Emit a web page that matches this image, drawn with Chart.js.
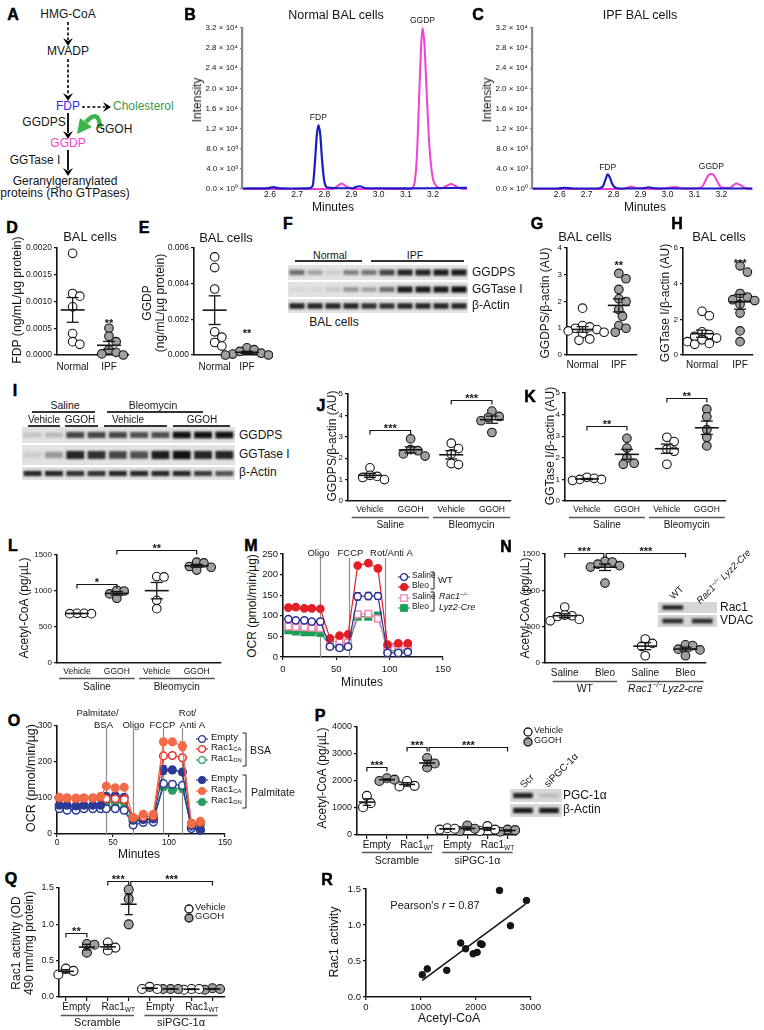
<!DOCTYPE html>
<html><head><meta charset="utf-8"><title>Figure</title>
<script src="https://cdn.jsdelivr.net/npm/chart.js@4.4.1/dist/chart.umd.min.js"></script>
<style>
html,body{margin:0;padding:0;background:#fff;}
#fig{position:relative;width:764px;height:1030px;overflow:hidden;background:#fff;font-family:'Liberation Sans',Arial,Helvetica,sans-serif;color:#151515;}
.tx{position:absolute;white-space:nowrap;line-height:1.15;}
.tx sub{font-size:0.62em;vertical-align:-0.3em;line-height:0;}
.tx sup{font-size:0.65em;vertical-align:0.5em;line-height:0;}
#fig canvas{position:absolute;}
.sv{position:absolute;}
</style></head>
<body><div id="fig"></div>
<script>
// ===================== DATA =====================
// B / C chromatograms (minutes, intensity)
const chromXTicks = [2.6, 2.7, 2.8, 2.9, 3.0, 3.1, 3.2];
const chromYTicks = [0, 4000, 8000, 12000, 16000, 20000, 24000, 28000, 32000];
const chromYLabels = ['0.0 × 10⁰', '4.0 × 10³', '8.0 × 10³', '1.2 × 10⁴', '1.6 × 10⁴', '2.0 × 10⁴', '2.4 × 10⁴', '2.8 × 10⁴', '3.2 × 10⁴'];
const bFdpMin = [2.500, 2.560, 2.595, 2.612, 2.630, 2.680, 2.740, 2.757, 2.765, 2.772, 2.778, 2.785, 2.792, 2.800, 2.812, 2.860, 2.905, 2.922, 2.932, 2.948, 3.000, 3.100, 3.200, 3.270, 3.325];
const bFdpInt = [100, 120, 180, 380, 160, 100, 120, 600, 5000, 10500, 12700, 10800, 5500, 1500, 300, 150, 150, 500, 550, 200, 150, 120, 150, 200, 250];
const bGgdpMin = [2.500, 2.700, 2.830, 2.852, 2.864, 2.878, 2.910, 3.050, 3.115, 3.130, 3.140, 3.148, 3.155, 3.161, 3.168, 3.176, 3.186, 3.198, 3.212, 3.228, 3.250, 3.266, 3.282, 3.300, 3.325];
const bGgdpInt = [0, 0, 0, 700, 1100, 600, 0, 0, 0, 800, 6000, 17000, 27000, 32000, 29000, 20000, 9000, 2500, 600, 150, 600, 1000, 600, 100, 0];
const cFdpMin = [2.500, 2.590, 2.620, 2.650, 2.740, 2.760, 2.770, 2.778, 2.786, 2.796, 2.812, 2.850, 2.910, 2.930, 2.950, 3.050, 3.150, 3.250, 3.315];
const cFdpInt = [100, 100, 250, 100, 100, 500, 1900, 2900, 2300, 900, 150, 100, 150, 350, 150, 100, 100, 100, 100];
const cGgdpMin = [2.500, 2.830, 2.852, 2.865, 2.880, 2.960, 3.010, 3.030, 3.050, 3.100, 3.128, 3.142, 3.153, 3.163, 3.173, 3.186, 3.200, 3.230, 3.255, 3.270, 3.290, 3.315];
const cGgdpInt = [0, 0, 300, 500, 250, 0, 300, 400, 150, 100, 400, 1800, 2800, 3000, 2700, 1400, 300, 200, 1100, 800, 150, 0];

// D / E (BAL cells)
const balCats = ['Normal', 'IPF'];
const dNormal = [0.0019, 0.00115, 0.0011, 0.0009, 0.0004, 0.00025, 0.0002];
const dIPF = [0.0005, 0.00035, 0.00025, 0.0001, 0.00005, 0.00002, 0.0];
const dYTicks = [0, 0.0005, 0.001, 0.0015, 0.002];
const dYLabels = ['0.0000', '0.0005', '0.0010', '0.0015', '0.0020'];
const eNormal = [0.0055, 0.0049, 0.0037, 0.0013, 0.001, 0.0007, 0.0005];
const eIPF = [0.0004, 0.0003, 0.0002, 0.0001, 0.00005, 0.0, 0.0];
const eYTicks = [0, 0.002, 0.004, 0.006];
const eYLabels = ['0.000', '0.002', '0.004', '0.006'];
// G / H
const gNormal = [1.75, 1.1, 1.05, 1.0, 0.95, 0.9, 0.85, 0.8, 0.6, 0.55];
const gIPF = [3.05, 2.85, 2.45, 2.1, 2.0, 1.7, 1.45, 1.1, 1.0, 0.85];
const gYTicks = [0, 1, 2, 3, 4];
const gYLabels = ['0', '1', '2', '3', '4'];
const hNormal = [2.45, 2.2, 1.3, 1.15, 1.05, 0.95, 0.85, 0.75, 0.65, 0.6];
const hIPF = [5.0, 4.65, 3.45, 3.25, 3.1, 3.05, 2.85, 2.35, 1.35, 0.75];
const hYTicks = [0, 2, 4, 6];
const hYLabels = ['0', '2', '4', '6'];
// J / K
const treatCats = ['Vehicle', 'GGOH', 'Vehicle', 'GGOH'];
const jSalVeh = [1.55, 1.2, 1.15, 1.1, 1.0];
const jSalGgoh = [2.9, 2.4, 2.35, 2.2, 2.1];
const jBleoVeh = [2.7, 2.45, 2.2, 1.75, 1.7];
const jBleoGgoh = [4.2, 3.95, 3.9, 3.75, 3.2];
const kSalVeh = [1.1, 1.05, 1.0, 1.0, 0.95];
const kSalGgoh = [2.9, 2.45, 2.0, 1.75, 1.7];
const kBleoVeh = [2.95, 2.75, 2.4, 2.3, 1.7];
const kBleoGgoh = [4.25, 3.9, 3.3, 2.95, 2.55];
const jkYTicks = [0, 1, 2, 3, 4, 5];
const jkYLabels = ['0', '1', '2', '3', '4', '5'];
// L
const lSalVeh = [690, 690, 685, 685];
const lSalGgoh = [1010, 1000, 960, 900];
const lBleoVeh = [1200, 1195, 870, 755];
const lBleoGgoh = [1400, 1390, 1340, 1330, 1290];
const acYTicks = [0, 500, 1000, 1500];
const acYLabels = ['0', '500', '1000', '1500'];
// M (OCR, minutes)
const mMin = [5, 12, 20, 27, 35, 44, 53, 61, 70, 80, 89, 98, 108, 117];
const mSalWT = [92, 89, 89, 86, 86, 25, 22, 25, 147, 148, 148, 10, 10, 12];
const mSalWTErr = [5, 5, 6, 5, 6, 2, 2, 2, 9, 9, 8, 2, 2, 2];
const mBleoWT = [120, 121, 118, 118, 117, 45, 52, 55, 222, 228, 215, 30, 33, 33];
const mSalKO = [74, 73, 72, 71, 70, 38, 37, 35, 104, 105, 93, 25, 27, 28];
const mSalKOErr = [5, 4, 4, 4, 4, 2, 2, 2, 4, 4, 6, 2, 2, 2];
const mBleoKO = [65, 62, 60, 60, 58, 28, 25, 27, 98, 98, 101, 15, 15, 17];
const mInjections = [35, 62, 96];
const mInjLabels = ['Oligo', 'FCCP', 'Rot/Anti A'];
const mYTicks = [0, 50, 100, 150, 200, 250];
const mYLabels = ['0', '50', '100', '150', '200', '250'];
const minTicks = [0, 50, 100, 150];
const minLabels = ['0', '50', '100', '150'];
// N
const nCats = ['Saline', 'Bleo', 'Saline', 'Bleo'];
const nSalWT = [770, 660, 650, 640, 600, 580];
const nBleoWT = [1400, 1390, 1360, 1340, 1320, 1100];
const nSalKO = [330, 270, 230, 100];
const nBleoKO = [250, 240, 190, 180, 100];
// O (OCR, minutes)
const oMin = [2, 9, 17, 24, 32, 39, 44, 52, 60, 68, 77, 86, 95, 103, 112, 120, 128];
const oBsaEmpty = [70, 66, 66, 70, 70, 70, 70, 70, 66, 25, 32, 33, 140, 138, 135, 15, 12];
const oBsaEmptyErr = [3, 3, 3, 3, 3, 3, 3, 3, 3, 3, 3, 3, 8, 8, 8, 3, 3];
const oBsaCA = [100, 100, 98, 100, 100, 102, 98, 98, 96, 45, 48, 50, 217, 218, 212, 30, 32];
const oBsaCAErr = [3, 3, 3, 3, 3, 3, 3, 3, 3, 3, 3, 3, 6, 5, 6, 3, 3];
const oBsaDN = [74, 72, 72, 74, 74, 74, 74, 74, 70, 35, 38, 40, 132, 122, 130, 18, 30];
const oBsaDNErr = [3, 3, 3, 3, 3, 3, 3, 3, 3, 3, 3, 3, 10, 10, 10, 3, 5];
const oPalEmpty = [80, 80, 78, 80, 80, 80, 105, 106, 102, 38, 40, 42, 178, 178, 172, 22, 10];
const oPalEmptyErr = [3, 3, 3, 3, 3, 3, 7, 6, 6, 3, 3, 3, 12, 8, 8, 3, 3];
const oPalCA = [102, 100, 100, 100, 100, 105, 133, 128, 130, 45, 55, 55, 256, 256, 244, 28, 35];
const oPalCAErr = [3, 3, 3, 3, 3, 4, 5, 4, 4, 3, 3, 3, 8, 6, 12, 4, 6];
const oPalDN = [78, 76, 76, 78, 78, 78, 90, 88, 88, 40, 42, 44, 135, 125, 128, 20, 25];
const oPalDNErr = [3, 3, 3, 3, 3, 3, 5, 5, 5, 3, 3, 3, 12, 12, 12, 3, 3];
const oInjections = [44, 68, 95, 112];
const oYTicks = [0, 100, 200, 300];
const oYLabels = ['0', '100', '200', '300'];
// P
const pEmptyVeh = [1450, 1180, 1030];
const pEmptyGgoh = [2100, 2050, 2000];
const pRacVeh = [2000, 1820, 1800];
const pRacGgoh = [2850, 2650, 2500];
const pSiEmptyVeh = [250, 230, 200];
const pSiEmptyGgoh = [350, 230, 150];
const pSiRacVeh = [330, 200, 150];
const pSiRacGgoh = [200, 180, 120];
const pYTicks = [0, 1000, 2000, 3000, 4000];
const pYLabels = ['0', '1000', '2000', '3000', '4000'];
const constructLabels = ['Empty', 'Rac1_{WT}', 'Empty', 'Rac1_{WT}'];
const siLabels = ['Scramble', 'siPGC-1α'];
// Q
const qEmptyVeh = [0.39, 0.36, 0.31];
const qEmptyGgoh = [0.73, 0.72, 0.61];
const qRacVeh = [0.75, 0.68, 0.64];
const qRacGgoh = [1.48, 1.35, 1.0];
const qSiEmptyVeh = [0.14, 0.11, 0.11];
const qSiEmptyGgoh = [0.11, 0.11, 0.11];
const qSiRacVeh = [0.11, 0.10, 0.11];
const qSiRacGgoh = [0.12, 0.11, 0.10];
const qYTicks = [0, 0.5, 1.0, 1.5];
const qYLabels = ['0.0', '0.5', '1.0', '1.5'];
// R
const rAcetyl = [1027, 1118, 1473, 1727, 1818, 1955, 2027, 2091, 2118, 2436, 2636, 2927];
const rRac1 = [0.31, 0.39, 0.37, 0.75, 0.67, 0.60, 0.62, 0.74, 0.73, 1.48, 0.99, 1.34];
const rFitX = [1027, 2909];
const rFitY = [0.23, 1.29];
const rXTicks = [0, 1000, 2000, 3000];
const rXLabels = ['0', '1000', '2000', '3000'];
// Western blot band intensities
const fGgdps = [0.55, 0.3, 0.1, 0.45, 0.5, 0.75, 0.9, 0.9, 0.95, 0.95];
const fGgtase = [0.05, 0.05, 0.12, 0.35, 0.3, 0.55, 0.95, 0.95, 0.95, 1.0];
const fActin = [0.9, 0.9, 0.9, 0.9, 0.85, 0.85, 0.9, 0.9, 0.9, 0.9];
const iGgdps = [0.15, 0.2, 0.75, 0.75, 0.75, 0.7, 0.7, 1.0, 1.0, 1.0];
const iGgtase = [0.1, 0.35, 0.9, 0.85, 0.75, 0.7, 0.95, 1.0, 0.9, 0.9];
const iActin = [0.9, 0.9, 0.85, 0.85, 0.9, 0.9, 0.9, 0.9, 0.8, 0.7];
const nRac1Band = [0.9, 0.0];
const nVdacBand = [0.85, 0.85];
const pPgcBand = [0.9, 0.15];
const pActinBand = [0.95, 0.95];

// ===================== HELPERS =====================
const fig = document.getElementById('fig');
const FONT = "'Liberation Sans', Arial, Helvetica, sans-serif";
const NARROW = "'Liberation Sans Narrow', 'Arial Narrow', 'Liberation Sans', Arial, sans-serif";
Chart.defaults.font.family = FONT;
Chart.defaults.color = '#151515';
const INK = '#151515';
const GRAY = '#a0a0a0';
const EX = {};

function T(html, x, y, o = {}) {
  const d = document.createElement('div');
  d.className = 'tx';
  d.innerHTML = html;
  d.style.fontSize = (o.size || 11) + 'px';
  d.style.left = x + 'px'; d.style.top = y + 'px';
  if (o.bold) d.style.fontWeight = o.bold === true ? 'bold' : o.bold;
  if (o.color) d.style.color = o.color;
  if (o.family) d.style.fontFamily = o.family;
  if (o.italic) d.style.fontStyle = 'italic';
  if (o.lh) d.style.lineHeight = o.lh + 'px';
  if (o.stroke) d.style.webkitTextStroke = o.stroke;
  const al = o.align || 'c';
  let tr = al === 'c' ? 'translate(-50%,-50%)' : al === 'l' ? 'translate(0,-50%)' : 'translate(-100%,-50%)';
  if (o.rot != null) { tr += ' rotate(' + o.rot + 'deg)'; d.style.textAlign = 'center'; }
  d.style.transform = tr;
  fig.appendChild(d);
  return d;
}
function svgAt(x, y, w, h, inner) {
  const d = document.createElement('div');
  d.className = 'sv';
  d.style.left = x + 'px'; d.style.top = y + 'px'; d.style.width = w + 'px'; d.style.height = h + 'px';
  d.innerHTML = '<svg width="' + w + '" height="' + h + '" xmlns="http://www.w3.org/2000/svg">' + inner + '</svg>';
  fig.appendChild(d);
}
function HL(x1, x2, y, w = 1.2, color = '#333') {
  const d = document.createElement('div');
  d.style.cssText = 'position:absolute;left:' + x1 + 'px;top:' + (y - w / 2) + 'px;width:' + (x2 - x1) + 'px;height:' + w + 'px;background:' + color + ';';
  fig.appendChild(d);
}
function bracketV(x, y1, y2) {
  svgAt(x - 4, y1 - 1, 6, y2 - y1 + 2, '<path d="M0.5 1 H4 V' + (y2 - y1 + 1) + ' H0.5" fill="none" stroke="#222" stroke-width="1"/>');
}
function legendMark(cx, cy, shape, color, open, lineLen, r = 3.4, stroke) {
  const w = 20, h = 12;
  let inner = lineLen ? '<line x1="' + (w / 2 - lineLen / 2) + '" y1="6" x2="' + (w / 2 + lineLen / 2) + '" y2="6" stroke="' + color + '" stroke-width="1.2"/>' : '';
  const fill = open ? '#fff' : color;
  const sc = stroke || color;
  if (shape === 'rect') inner += '<rect x="' + (w / 2 - 3.2) + '" y="2.8" width="6.4" height="6.4" fill="' + fill + '" stroke="' + sc + '" stroke-width="1.3"/>';
  else inner += '<circle cx="' + (w / 2) + '" cy="6" r="' + r + '" fill="' + fill + '" stroke="' + sc + '" stroke-width="1.3"/>';
  svgAt(cx - w / 2, cy - h / 2, w, h, inner);
}
function blot(x, y, w, rows, lanes, opts = {}) {
  const gap = opts.gap ?? 2;
  const H = rows.reduce((a, r) => a + r.h, 0) + (rows.length - 1) * gap;
  const c = document.createElement('canvas');
  c.width = w; c.height = H; c.style.left = x + 'px'; c.style.top = y + 'px';
  c.style.width = w + 'px'; c.style.height = H + 'px';
  fig.appendChild(c);
  const ctx = c.getContext('2d');
  let yy = 0; const lw = w / lanes;
  rows.forEach(r => {
    ctx.fillStyle = opts.bg || '#e2e2e2';
    ctx.fillRect(0, yy, w, r.h);
    ctx.save();
    ctx.beginPath(); ctx.rect(0, yy, w, r.h); ctx.clip();
    ctx.filter = 'blur(1.3px)';
    r.vals.forEach((v, i) => {
      if (v <= 0) return;
      const cx = (i + 0.5) * lw, bw = lw * (opts.bw || 0.84), bh = r.h * (r.bh || 0.42) * (0.65 + 0.35 * v);
      ctx.fillStyle = 'rgba(18,18,18,' + Math.min(1, v) + ')';
      ctx.fillRect(cx - bw / 2, yy + r.h / 2 - bh / 2, bw, bh);
    });
    ctx.restore();
    yy += r.h + gap;
  });
}
function parseRich(s) {
  let it = false;
  if (s[0] === '~') { it = true; s = s.slice(1); }
  const parts = []; const re = /([_^])\{([^}]*)\}/g; let last = 0, m;
  while ((m = re.exec(s))) {
    if (m.index > last) parts.push({ t: s.slice(last, m.index), it });
    parts.push({ t: m[2], sub: m[1] === '_', sup: m[1] === '^', it });
    last = re.lastIndex;
  }
  if (last < s.length) parts.push({ t: s.slice(last), it });
  return parts;
}
function drawRich(ctx, s, cx, cy, size, fam) {
  const parts = parseRich(s);
  const f = p => (p.it ? 'italic ' : '') + ((p.sub || p.sup) ? (size * 0.66).toFixed(1) : size) + 'px ' + fam;
  let w = 0;
  parts.forEach(p => { ctx.font = f(p); w += ctx.measureText(p.t).width; });
  let x = cx - w / 2;
  ctx.textAlign = 'left'; ctx.textBaseline = 'middle';
  parts.forEach(p => { ctx.font = f(p); const dy = p.sub ? size * 0.32 : p.sup ? -size * 0.38 : 0; ctx.fillText(p.t, x, cy + dy); x += ctx.measureText(p.t).width; });
}
function strokePts(ctx, pts, w, col) {
  ctx.beginPath(); ctx.moveTo(pts[0], pts[1]);
  for (let i = 2; i < pts.length; i += 2) ctx.lineTo(pts[i], pts[i + 1]);
  ctx.lineWidth = w; ctx.strokeStyle = col; ctx.stroke();
}
function drawStars(ctx, text, cx, cy, size) {
  ctx.font = 'bold ' + size + 'px ' + FONT; ctx.textAlign = 'center'; ctx.textBaseline = 'alphabetic'; ctx.fillStyle = INK;
  ctx.fillText(text, cx, cy + size * 0.6);
}

Chart.register({
  id: 'extras',
  beforeDatasetsDraw(chart) {
    const e = EX[chart.canvas.id]; if (!e) return;
    const ctx = chart.ctx, xs = chart.scales.x, ys = chart.scales.y, a = chart.chartArea;
    ctx.save();
    (e.vlines || []).forEach(v => {
      const px = Math.round(xs.getPixelForValue(v.x)) + 0.5;
      strokePts(ctx, [px, a.top + (v.top || 0), px, a.bottom], 1.2, '#8f8f8f');
      ctx.fillStyle = INK; ctx.font = (e.vfs || 9.5) + 'px ' + FONT; ctx.textAlign = 'center'; ctx.textBaseline = 'middle';
      v.labels.forEach(l => ctx.fillText(l.t, px + l.dx, a.top + l.dy));
    });
    (e.errs || []).forEach(s => {
      s.x.forEach((x, i) => {
        const px = xs.getPixelForValue(x), hi = ys.getPixelForValue(s.y[i] + s.e[i]), lo = ys.getPixelForValue(Math.max(0, s.y[i] - s.e[i]));
        strokePts(ctx, [px, hi, px, lo], 1.2, s.color);
        strokePts(ctx, [px - 3, hi, px + 3, hi], 1.2, s.color);
        strokePts(ctx, [px - 3, lo, px + 3, lo], 1.2, s.color);
      });
    });
    ctx.restore();
  },
  afterDatasetsDraw(chart) {
    const e = EX[chart.canvas.id]; if (!e) return;
    const ctx = chart.ctx, xs = chart.scales.x, ys = chart.scales.y, a = chart.chartArea;
    const fam = e.family || FONT;
    ctx.save();
    (e.summary || []).forEach(s => {
      const cx = xs.getPixelForValue(s.x), m = ys.getPixelForValue(s.mean);
      const hi = ys.getPixelForValue(s.mean + s.sem), lo = ys.getPixelForValue(Math.max(0, s.mean - s.sem));
      strokePts(ctx, [cx - s.mw, m, cx + s.mw, m], 1.6, INK);
      strokePts(ctx, [cx, hi, cx, lo], 1.3, INK);
      strokePts(ctx, [cx - s.cw, hi, cx + s.cw, hi], 1.3, INK);
      strokePts(ctx, [cx - s.cw, lo, cx + s.cw, lo], 1.3, INK);
    });
    (e.brackets || []).forEach(b => {
      const x1 = xs.getPixelForValue(b.from), x2 = xs.getPixelForValue(b.to), y = Math.round(ys.getPixelForValue(b.y)) + 0.5;
      strokePts(ctx, [x1, y + 4, x1, y, x2, y, x2, y + 4], 1.2, INK);
      drawStars(ctx, b.text, (x1 + x2) / 2, y - 5, e.sfs || 11);
    });
    (e.stars || []).forEach(s => drawStars(ctx, s.text, xs.getPixelForValue(s.x), ys.getPixelForValue(s.y), e.sfs || 11));
    ctx.fillStyle = INK;
    (e.tickLabels || []).forEach(t => { ctx.fillStyle = INK; drawRich(ctx, t.text, xs.getPixelForValue(t.x), a.bottom + t.dy, t.size, fam); });
    (e.groupLabels || []).forEach(g => {
      const x1 = xs.getPixelForValue(g.from - g.ext), x2 = xs.getPixelForValue(g.to + g.ext);
      const ly = Math.round(a.bottom + g.lineDy) + 0.5;
      strokePts(ctx, [x1, ly, x2, ly], g.lw || 1.3, g.lc || '#555');
      ctx.fillStyle = INK;
      drawRich(ctx, g.text, (xs.getPixelForValue(g.from) + xs.getPixelForValue(g.to)) / 2, a.bottom + g.textDy, g.size, fam);
    });
    (e.peaks || []).forEach(p => {
      ctx.fillStyle = INK; ctx.font = (p.size || 8.5) + 'px ' + FONT; ctx.textAlign = 'center'; ctx.textBaseline = 'middle';
      ctx.fillText(p.text, xs.getPixelForValue(p.x), ys.getPixelForValue(p.y) - 7);
    });
    ctx.restore();
  }
});

function mkCanvas(id, box) {
  const c = document.createElement('canvas'); c.id = id;
  const w = box.yw + (box.r - box.l) + box.pr, h = box.pt + (box.b - box.t) + box.xh;
  c.width = w; c.height = h;
  c.style.left = (box.l - box.yw) + 'px'; c.style.top = (box.t - box.pt) + 'px';
  c.style.width = w + 'px'; c.style.height = h + 'px';
  fig.appendChild(c); return c;
}
function baseOptions(box, x, y) {
  return {
    responsive: false, maintainAspectRatio: false, animation: false, devicePixelRatio: 1, events: [],
    layout: { padding: { left: 0, top: box.pt, right: box.pr, bottom: 0 } },
    plugins: { legend: { display: false }, tooltip: { enabled: false }, title: { display: false } },
    scales: { x, y }
  };
}
function axisY(box, ticks, labels, o = {}) {
  return {
    type: 'linear', min: ticks[0], max: ticks[ticks.length - 1], position: 'left',
    afterBuildTicks: s => { s.ticks = ticks.map(v => ({ value: v })); },
    ticks: { callback: (v, i) => labels[i], font: { size: o.size || 8.5, family: o.family || FONT }, color: INK, padding: o.pad ?? 2, autoSkip: false },
    grid: { drawOnChartArea: false, drawTicks: true, tickLength: o.tl ?? 3, color: o.color || INK, lineWidth: 1.2 },
    border: { color: o.color || INK, width: o.bw || 1.6 },
    afterFit: s => { s.width = box.yw; }
  };
}
function axisX(box, min, max, ticks, labels, o = {}) {
  return {
    type: 'linear', min, max, position: 'bottom',
    afterBuildTicks: s => { s.ticks = ticks.map(v => ({ value: v })); },
    ticks: { callback: (v, i) => labels ? labels[i] : '', font: { size: o.size || 8.5, family: o.family || FONT }, color: INK, padding: o.pad ?? 3, autoSkip: false, maxRotation: 0, minRotation: 0 },
    grid: { display: !!o.tl, drawOnChartArea: false, drawTicks: !!o.tl, tickLength: o.tl || 0, color: INK, lineWidth: 1.2 },
    border: { display: o.border !== false, color: INK, width: 1.6 },
    afterFit: s => { s.height = box.xh; }
  };
}
function beeswarm(vals, center, pxX, pxY, minD) {
  const order = vals.map((v, i) => i).sort((a, b) => vals[b] - vals[a]);
  const placed = [], out = new Array(vals.length);
  order.forEach(i => {
    const py = vals[i] * pxY;
    for (let k = 0; k < 80; k++) {
      const off = k === 0 ? 0 : (k % 2 ? 1 : -1) * Math.ceil(k / 2) * minD * 0.5;
      if (placed.every(p => (p.x - off) ** 2 + (p.y - py) ** 2 >= minD * minD)) { placed.push({ x: off, y: py }); out[i] = center + off / pxX; break; }
    }
  });
  return out;
}
function dotPanel(id, box, c) {
  const cv = mkCanvas(id, box);
  const W = box.r - box.l, H = box.b - box.t;
  const yMax = c.yTicks[c.yTicks.length - 1];
  const pxX = W / (c.xMax - c.xMin), pxY = H / yMax;
  const r = c.r || 4.3;
  const datasets = c.groups.map((vals, gi) => {
    const xs = beeswarm(vals, gi, pxX, pxY, r * 1.7);
    return {
      data: vals.map((v, k) => ({ x: xs[k], y: v })), showLine: false, clip: false,
      pointRadius: r, pointHoverRadius: r, pointBorderWidth: 1.1, pointBorderColor: INK, pointBackgroundColor: c.fills[gi]
    };
  });
  EX[id] = {
    summary: c.groups.map((vals, gi) => {
      const n = vals.length, m = vals.reduce((a, b) => a + b, 0) / n;
      const sd = Math.sqrt(vals.reduce((a, b) => a + (b - m) ** 2, 0) / (n - 1));
      return { x: gi, mean: m, sem: sd / Math.sqrt(n), mw: c.mw || 12, cw: c.cw || 6 };
    }),
    brackets: c.brackets || [], stars: c.stars || [], tickLabels: c.tickLabels || [], groupLabels: c.groupLabels || [],
    family: c.family || FONT, sfs: c.sfs || 11
  };
  const catIdx = c.groups.map((g, i) => i);
  new Chart(cv, {
    type: 'scatter', data: { datasets },
    options: baseOptions(box,
      axisX(box, c.xMin, c.xMax, catIdx, c.cats, { size: c.catSize || 10, pad: c.catPad ?? 4, tl: c.xTicks ? 4 : 0, family: c.family }),
      axisY(box, c.yTicks, c.yLabels, { size: c.ySize || 8.5, family: c.family }))
  });
}
function chromPanel(id, box, traces) {
  const cv = mkCanvas(id, box);
  EX[id] = {
    peaks: traces.map(t => { let k = 0; t.y.forEach((v, i) => { if (v > t.y[k]) k = i; }); return { x: t.x[k], y: t.y[k], text: t.label, size: 8.5 }; })
  };
  new Chart(cv, {
    type: 'line',
    data: { datasets: traces.map(t => ({ data: t.x.map((x, i) => ({ x, y: t.y[i] })), borderColor: t.color, borderWidth: t.w, pointRadius: 0, cubicInterpolationMode: 'monotone', clip: false, fill: false })) },
    options: baseOptions(box,
      axisX(box, 2.497, 3.325, chromXTicks, chromXTicks.map(v => v.toFixed(1)), { size: 8.5, pad: 1, border: false }),
      axisY(box, chromYTicks, chromYLabels, { size: 8, color: '#8a8a8a', bw: 2.2, tl: 2 }))
  });
}
function linePanel(id, box, c) {
  const cv = mkCanvas(id, box);
  EX[id] = { vlines: c.vlines, vfs: c.vfs || 9.5, errs: c.series.filter(s => s.err).map(s => ({ x: c.x, y: s.y, e: s.err, color: s.color })) };
  const datasets = c.series.map(s => ({
    data: c.x.map((x, i) => ({ x, y: s.y[i] })), borderColor: s.color, borderWidth: 1.2, tension: 0, clip: false,
    pointStyle: s.shape || 'circle', pointRadius: s.shape === 'rect' ? 4.6 : (c.r || 3.6), pointHoverRadius: 4,
    pointBackgroundColor: s.open ? '#fff' : s.color, pointBorderColor: s.color, pointBorderWidth: 1.5
  }));
  new Chart(cv, {
    type: 'line', data: { datasets },
    options: baseOptions(box,
      axisX(box, 0, 150, minTicks, minLabels, { size: c.xSize || 9, pad: c.xPad ?? 3, tl: 3 }),
      axisY(box, c.yTicks, c.yLabels, { size: c.ySize || 9 }))
  });
}

// ===================== LAYOUT (plot areas in page px) =====================
const BOX = {
  B: { l: 242, t: 28, r: 467, b: 189, yw: 60, xh: 22, pt: 12, pr: 8 },
  C: { l: 532, t: 28, r: 755, b: 189, yw: 60, xh: 22, pt: 12, pr: 8 },
  D: { l: 57, t: 248, r: 130, b: 355, yw: 45, xh: 22, pt: 8, pr: 4 },
  E: { l: 194, t: 248, r: 269, b: 355, yw: 38, xh: 22, pt: 8, pr: 4 },
  G: { l: 567, t: 248, r: 638, b: 355, yw: 16, xh: 22, pt: 10, pr: 4 },
  H: { l: 683, t: 248, r: 753, b: 355, yw: 16, xh: 22, pt: 16, pr: 8 },
  J: { l: 348, t: 394, r: 512, b: 501, yw: 16, xh: 34, pt: 18, pr: 4 },
  K: { l: 565, t: 393, r: 727, b: 501, yw: 16, xh: 34, pt: 18, pr: 4 },
  L: { l: 57, t: 555, r: 222, b: 663, yw: 26, xh: 34, pt: 18, pr: 4 },
  M: { l: 283, t: 554, r: 443, b: 657, yw: 22, xh: 22, pt: 14, pr: 12 },
  N: { l: 545, t: 554, r: 707, b: 663, yw: 26, xh: 34, pt: 18, pr: 4 },
  O: { l: 57, t: 726, r: 225, b: 834, yw: 22, xh: 18, pt: 20, pr: 12 },
  P: { l: 357, t: 727, r: 518, b: 835, yw: 26, xh: 36, pt: 18, pr: 4 },
  Q: { l: 59, t: 888, r: 226, b: 997, yw: 22, xh: 32, pt: 22, pr: 4 },
  R: { l: 366, t: 889, r: 531, b: 997, yw: 22, xh: 18, pt: 8, pr: 12 }
};

// ===================== PANEL A (pathway) =====================
function headD(x, y) { return '<polygon points="' + (x - 5) + ',' + (y - 8) + ' ' + x + ',' + y + ' ' + (x + 5) + ',' + (y - 8) + ' ' + x + ',' + (y - 5) + '" fill="#000"/>'; }
function headR(x, y) { return '<polygon points="' + (x - 8) + ',' + (y - 5) + ' ' + x + ',' + y + ' ' + (x - 8) + ',' + (y + 5) + ' ' + (x - 5) + ',' + y + '" fill="#000"/>'; }
svgAt(0, 0, 180, 200,
  '<g stroke="#000" stroke-width="1.6" fill="none">' +
  '<line x1="68" y1="22" x2="68" y2="40" stroke-dasharray="3,2.2"/>' +
  '<line x1="68" y1="59" x2="68" y2="95" stroke-dasharray="3,2.2"/>' +
  '<line x1="82" y1="107" x2="105" y2="107" stroke-dasharray="3,2.2"/>' +
  '<line x1="68" y1="113" x2="68" y2="133" stroke-width="1.8"/>' +
  '<line x1="68" y1="150" x2="68" y2="170" stroke-width="1.8"/>' +
  '</g>' + headD(68, 46) + headD(68, 101) + headR(111, 107) + headD(68, 139) + headD(68, 176) +
  '<path d="M100 128 Q99 108 86 122" stroke="#3cb44b" stroke-width="4.5" fill="none"/>' +
  '<polygon points="80,118 92,127 77,134" fill="#3cb44b"/>');
T('HMG-CoA', 68, 15, { size: 12 });
T('MVADP', 68, 52, { size: 12 });
T('FDP', 68, 107, { size: 12, color: '#2b2bf0' });
T('Cholesterol', 113, 107, { size: 12, color: '#3a9a48', align: 'l' });
T('GGDPS', 44, 123, { size: 12 });
T('GGOH', 114, 130, { size: 12 });
T('GGDP', 68, 144, { size: 12, color: '#f53fcf' });
T('GGTase I', 35, 161, { size: 12 });
T('Geranylgeranylated', 65, 182, { size: 12 });
T('proteins (Rho GTPases)', 65, 194, { size: 12 });

// ===================== CHARTS =====================
chromPanel('chB', BOX.B, [
  { x: bFdpMin, y: bFdpInt, color: '#1b1bc4', w: 2.2, label: 'FDP' },
  { x: bGgdpMin, y: bGgdpInt, color: '#f23fd4', w: 2, label: 'GGDP' }
]);
chromPanel('chC', BOX.C, [
  { x: cFdpMin, y: cFdpInt, color: '#1b1bc4', w: 2.2, label: 'FDP' },
  { x: cGgdpMin, y: cGgdpInt, color: '#f23fd4', w: 2, label: 'GGDP' }
]);

dotPanel('chD', BOX.D, { groups: [dNormal, dIPF], fills: ['#fff', GRAY], cats: balCats, xMin: -0.43, xMax: 1.54,
  yTicks: dYTicks, yLabels: dYLabels, catPad: 6, stars: [{ x: 1, y: 0.00065, text: '**' }] });
dotPanel('chE', BOX.E, { groups: [eNormal, eIPF], fills: ['#fff', GRAY], cats: balCats, xMin: -0.64, xMax: 1.64,
  yTicks: eYTicks, yLabels: eYLabels, catPad: 6, stars: [{ x: 1, y: 0.0014, text: '**' }] });
dotPanel('chG', BOX.G, { groups: [gNormal, gIPF], fills: ['#fff', GRAY], cats: balCats, xMin: -0.43, xMax: 1.49,
  yTicks: gYTicks, yLabels: gYLabels, ySize: 8, catPad: 4, mw: 11, stars: [{ x: 1, y: 3.48, text: '**' }] });
dotPanel('chH', BOX.H, { groups: [hNormal, hIPF], fills: ['#fff', GRAY], cats: balCats, xMin: -0.5, xMax: 1.34,
  yTicks: hYTicks, yLabels: hYLabels, ySize: 8, catPad: 4, mw: 11, stars: [{ x: 1, y: 5.33, text: '***' }] });

const treatGroups = (a, b) => [
  { from: 0, to: 1, text: a, ext: 0.45, lineDy: 16, textDy: 24, size: 10 },
  { from: 2, to: 3, text: b, ext: 0.45, lineDy: 16, textDy: 24, size: 10 }];
dotPanel('chJ', BOX.J, { groups: [jSalVeh, jSalGgoh, jBleoVeh, jBleoGgoh], fills: ['#fff', GRAY, '#fff', GRAY], cats: treatCats, catSize: 8.5,
  xMin: -0.54, xMax: 3.46, yTicks: jkYTicks, yLabels: jkYLabels, ySize: 8,
  brackets: [{ from: 0, to: 1, y: 3.32, text: '***' }, { from: 2, to: 3, y: 4.72, text: '***' }],
  groupLabels: treatGroups('Saline', 'Bleomycin') });
dotPanel('chK', BOX.K, { groups: [kSalVeh, kSalGgoh, kBleoVeh, kBleoGgoh], fills: ['#fff', GRAY, '#fff', GRAY], cats: treatCats, catSize: 8.5,
  xMin: -0.55, xMax: 3.47, yTicks: jkYTicks, yLabels: jkYLabels, ySize: 8,
  brackets: [{ from: 0, to: 1, y: 3.46, text: '**' }, { from: 2, to: 3, y: 4.77, text: '**' }],
  groupLabels: treatGroups('Saline', 'Bleomycin') });
dotPanel('chL', BOX.L, { groups: [lSalVeh, lSalGgoh, lBleoVeh, lBleoGgoh], fills: ['#fff', GRAY, '#fff', GRAY], cats: treatCats, catSize: 8.5,
  xMin: -0.5, xMax: 3.6, yTicks: acYTicks, yLabels: acYLabels, ySize: 8,
  brackets: [{ from: 0, to: 1, y: 1092, text: '*' }, { from: 1, to: 3, y: 1568, text: '**' }],
  groupLabels: treatGroups('Saline', 'Bleomycin').map(g => Object.assign(g, { lineDy: 15 })) });
dotPanel('chN', BOX.N, { groups: [nSalWT, nBleoWT, nSalKO, nBleoKO], fills: ['#fff', GRAY, '#fff', GRAY], cats: nCats, catSize: 10,
  xMin: -0.49, xMax: 3.5, yTicks: acYTicks, yLabels: acYLabels, ySize: 8,
  brackets: [{ from: 0, to: 0.97, y: 1512, text: '***' }, { from: 1.03, to: 3, y: 1512, text: '***' }],
  groupLabels: [
    { from: 0, to: 1, text: 'WT', ext: 0.3, lineDy: 18, textDy: 26, size: 10.5 },
    { from: 2, to: 3, text: '~Rac1^{−/−}Lyz2-cre', ext: 0.45, lineDy: 18, textDy: 26, size: 10.5 }] });

const pairFills = ['#fff', GRAY, '#fff', GRAY, '#fff', GRAY, '#fff', GRAY];
dotPanel('chP', BOX.P, { groups: [pEmptyVeh, pEmptyGgoh, pRacVeh, pRacGgoh, pSiEmptyVeh, pSiEmptyGgoh, pSiRacVeh, pSiRacGgoh], fills: pairFills,
  cats: null, xTicks: true, xMin: -0.49, xMax: 7.44, yTicks: pYTicks, yLabels: pYLabels, ySize: 9, r: 4.5, mw: 8, cw: 4,
  brackets: [{ from: 0, to: 1, y: 2518, text: '***' }, { from: 2, to: 3, y: 3259, text: '***' }, { from: 3.1, to: 7, y: 3259, text: '***' }],
  tickLabels: constructLabels.map((t, i) => ({ x: i * 2 + 0.5, text: t, dy: 10, size: 10 })),
  groupLabels: siLabels.map((t, i) => ({ from: i * 4, to: i * 4 + 3, text: t, ext: 0.25, lineDy: 17, textDy: 26, size: 10.5 })),
  family: NARROW });
dotPanel('chQ', BOX.Q, { groups: [qEmptyVeh, qEmptyGgoh, qRacVeh, qRacGgoh, qSiEmptyVeh, qSiEmptyGgoh, qSiRacVeh, qSiRacGgoh], fills: pairFills,
  cats: null, xTicks: true, xMin: -0.33, xMax: 7.57, yTicks: qYTicks, yLabels: qYLabels, ySize: 9, r: 4.5, mw: 8, cw: 4,
  brackets: [{ from: 0, to: 1, y: 0.88, text: '**' }, { from: 2, to: 3, y: 1.6, text: '***' }, { from: 3.1, to: 7, y: 1.6, text: '***' }],
  tickLabels: constructLabels.map((t, i) => ({ x: i * 2 + 0.5, text: t, dy: 10, size: 10 })),
  groupLabels: siLabels.map((t, i) => ({ from: i * 4, to: i * 4 + 3, text: t, ext: 0.25, lineDy: 18, textDy: 26, size: 11 })),
  family: NARROW });

linePanel('chM', BOX.M, {
  x: mMin, yTicks: mYTicks, yLabels: mYLabels, ySize: 9.5, xSize: 9.5, xPad: 4,
  series: [
    { y: mSalWT, err: mSalWTErr, color: '#2d2d96', shape: 'circle', open: true },
    { y: mBleoWT, color: '#e41e26', shape: 'circle', open: false },
    { y: mSalKO, err: mSalKOErr, color: '#f08ab4', shape: 'rect', open: true },
    { y: mBleoKO, color: '#1aa053', shape: 'rect', open: false }],
  vlines: mInjections.map((x, i) => ({ x, top: 4, labels: [{ t: mInjLabels[i], dx: [-2, 1, 6][i], dy: -1 }] }))
});
linePanel('chO', BOX.O, {
  x: oMin, yTicks: oYTicks, yLabels: oYLabels, ySize: 8.5, xSize: 8.5, xPad: 1, r: 3.8,
  series: [
    { y: oPalCA, err: oPalCAErr, color: '#f26b46', open: false },
    { y: oBsaCA, err: oBsaCAErr, color: '#e8312b', open: true },
    { y: oPalEmpty, err: oPalEmptyErr, color: '#2b3a94', open: false },
    { y: oBsaEmpty, err: oBsaEmptyErr, color: '#2b3a94', open: true },
    { y: oPalDN, err: oPalDNErr, color: '#2a9d62', open: false },
    { y: oBsaDN, err: oBsaDNErr, color: '#2a9d62', open: true }],
  vlines: [
    { x: oInjections[0], top: 2, labels: [{ t: 'Palmitate/', dx: -9, dy: -13 }, { t: 'BSA', dx: -3, dy: -1 }] },
    { x: oInjections[1], top: 2, labels: [{ t: 'Oligo', dx: 0, dy: -1 }] },
    { x: oInjections[2], top: 2, labels: [{ t: 'FCCP', dx: -1, dy: -1 }] },
    { x: oInjections[3], top: 2, labels: [{ t: 'Rot/', dx: 5, dy: -13 }, { t: 'Anti A', dx: 10, dy: -1 }] }]
});

(function () {
  const box = BOX.R; const cv = mkCanvas('chR', box);
  new Chart(cv, {
    type: 'scatter', data: {
      datasets: [
        { data: rAcetyl.map((x, i) => ({ x, y: rRac1[i] })), pointRadius: 3.3, pointBackgroundColor: INK, pointBorderColor: INK, showLine: false, clip: false },
        { type: 'line', data: rFitX.map((x, i) => ({ x, y: rFitY[i] })), borderColor: INK, borderWidth: 1.5, pointRadius: 0, showLine: true, clip: false }]
    },
    options: baseOptions(box, axisX(box, 0, 3000, rXTicks, rXLabels, { tl: 3, pad: 2, family: NARROW, size: 9.5 }),
      axisY(box, qYTicks, qYLabels, { family: NARROW, size: 9.5 }))
  });
})();

// ===================== BLOTS =====================
blot(288, 265, 180, [{ h: 15, vals: fGgdps }, { h: 15, vals: fGgtase }, { h: 14, vals: fActin }], 10);
blot(22, 427, 213, [{ h: 16, vals: iGgdps }, { h: 20, vals: iGgtase }, { h: 13, vals: iActin }], 10);
blot(658, 602, 59, [{ h: 11, vals: nRac1Band }, { h: 12, vals: nVdacBand }], 2, { bg: '#d6d6d6', bw: 0.7 });
blot(510, 789, 52, [{ h: 13, vals: pPgcBand }, { h: 13, vals: pActinBand }], 2, { bg: '#d9d9d9', bw: 0.75 });

// ===================== TEXT =====================
[['A', 13, 15], ['B', 190, 15], ['C', 478, 15], ['D', 12, 228], ['E', 144, 228], ['F', 288, 224], ['G', 537, 224], ['H', 677, 224],
 ['I', 15, 391], ['J', 321, 406], ['K', 530, 397], ['L', 13, 546], ['M', 251, 546], ['N', 506, 547], ['O', 14, 721], ['P', 320, 716],
 ['Q', 11, 879], ['R', 327, 880]].forEach(([t, x, y]) => T(t, x, y, { size: 16, bold: 900, stroke: '0.5px #000', color: '#000' }));

T('Normal BAL cells', 336, 15, { size: 12.5 });
T('IPF BAL cells', 640, 15, { size: 12.5 });
T('Minutes', 333, 208, { size: 12 });
T('Minutes', 645, 208, { size: 12 });
T('Intensity', 198, 100, { size: 12, rot: -90 });
T('Intensity', 488, 100, { size: 12, rot: -90 });

T('BAL cells', 90, 237, { size: 13 });
T('BAL cells', 226, 238, { size: 13 });
T('BAL cells', 585, 237, { size: 13 });
T('BAL cells', 719, 237, { size: 13 });
T('FDP (ng/mL/µg protein)', 17, 300, { size: 12.2, rot: -90 });
T('GGDP<br>(ng/mL/µg protein)', 154, 303, { size: 12, rot: -90, lh: 13 });
T('GGDPS/β-actin (AU)', 546, 303, { size: 12, rot: -90 });
T('GGTase I/β-actin (AU)', 666, 303, { size: 12, rot: -90 });

T('Normal', 330, 255, { size: 10.5 }); HL(295, 362, 261);
T('IPF', 415, 255, { size: 10.5 }); HL(371, 464, 261);
T('GGDPS', 472, 273, { size: 12, align: 'l' });
T('GGTase I', 472, 290, { size: 12, align: 'l' });
T('β-Actin', 472, 306, { size: 12, align: 'l' });
T('BAL cells', 334, 323, { size: 12 });

T('Saline', 65, 405, { size: 10.5 }); HL(32, 95, 412);
T('Bleomycin', 153, 405, { size: 10.5 }); HL(107, 203, 412);
T('Vehicle', 44, 420, { size: 10 }); HL(28, 60, 426);
T('GGOH', 80, 420, { size: 10 }); HL(65, 98, 426);
T('Vehicle', 128, 420, { size: 10 }); HL(104, 167, 426);
T('GGOH', 202, 420, { size: 10 }); HL(173, 230, 426);
T('GGDPS', 239, 436, { size: 12, align: 'l' });
T('GGTase I', 239, 455, { size: 12, align: 'l' });
T('β-Actin', 239, 473, { size: 12, align: 'l' });
T('GGDPS/β-actin (AU)', 333, 446, { size: 12, rot: -90 });
T('GGTase I/β-actin (AU)', 551, 446, { size: 12, rot: -90 });

T('Acetyl-CoA (pg/µL)', 25, 608, { size: 12, rot: -90 });
T('OCR (pmol/min/µg)', 253, 606, { size: 12, rot: -90 });
T('Acetyl-CoA (pg/µL)', 526, 608, { size: 12, rot: -90 });
T('Minutes', 362, 683, { size: 12 });
// M legend
[['Saline', 575, 'circle', '#2d2d96', true], ['Bleo', 585, 'circle', '#e41e26', false], ['Saline', 596, 'rect', '#f08ab4', true], ['Bleo', 606, 'rect', '#1aa053', false]]
  .forEach(([t, y, sh, col, open]) => { legendMark(404, y, sh, col, open, 12); T(t, 412, y + 1, { size: 8.5, align: 'l' }); });
bracketV(434, 572, 589); T('WT', 438, 580, { size: 9.5, align: 'l' });
bracketV(434, 592, 611); T('<i>Rac1<sup>−/−</sup></i>', 439, 596, { size: 9, align: 'l' }); T('<i>Lyz2-Cre</i>', 439, 607, { size: 9, align: 'l' });
// N inset
T('WT', 677, 593, { size: 9.5, rot: -45 });
T('<i>Rac1<sup>−/−</sup> Lyz2-Cre</i>', 724, 577, { size: 9.5, rot: -45 });
T('Rac1', 720, 608, { size: 12, align: 'l' });
T('VDAC', 720, 621, { size: 12, align: 'l' });

// O
T('OCR (pmol/min/µg)', 31, 778, { size: 12.5, rot: -90 });
T('Minutes', 139, 855, { size: 12 });
[['Empty', 737, '#2b3a94', true], ['Rac1<sub>CA</sub>', 747, '#e8312b', true], ['Rac1<sub>DN</sub>', 758, '#2a9d62', true],
 ['Empty', 778, '#2b3a94', false], ['Rac1<sub>CA</sub>', 789, '#f26b46', false], ['Rac1<sub>DN</sub>', 800, '#2a9d62', false]]
  .forEach(([t, y, col, open]) => { legendMark(202, y, 'circle', col, open, 12); T(t, 211, y, { size: 9.5, align: 'l' }); });
bracketV(246, 733, 766); T('BSA', 250, 750, { size: 10.5, align: 'l' });
bracketV(246, 775, 808); T('Palmitate', 251, 792, { size: 10.5, align: 'l' });

// P
T('Acetyl-CoA (pg/µL)', 323, 778, { size: 12, rot: -90 });
legendMark(528, 730, 'circle', '#fff', true, 0, 4, INK); T('Vehicle', 534, 730, { size: 9, align: 'l' });
legendMark(528, 740, 'circle', GRAY, false, 0, 4, INK); T('GGOH', 534, 740, { size: 9, align: 'l' });
T('Scr', 527, 781, { size: 10, rot: -45 });
T('siPGC-1α', 561, 770, { size: 10, rot: -45 });
T('PGC-1α', 563, 796, { size: 12, align: 'l' });
T('β-Actin', 563, 810, { size: 12, align: 'l' });

// Q / R
T('Rac1 activity (OD<br>490 nm/mg protein)', 23, 943, { size: 12, rot: -90, lh: 13, family: NARROW });
legendMark(189, 907, 'circle', '#fff', true, 0, 4, INK); T('Vehicle', 195, 907, { size: 9.5, align: 'l', family: NARROW });
legendMark(189, 916, 'circle', GRAY, false, 0, 4, INK); T('GGOH', 195, 916, { size: 9.5, align: 'l', family: NARROW });
T('Rac1 activity', 334, 942, { size: 12.5, rot: -90, family: NARROW });
T('Acetyl-CoA', 449, 1018, { size: 12.5, family: NARROW });
T("Pearson's <i>r</i> = 0.87", 435, 905, { size: 11, family: NARROW });
</script></body></html>
